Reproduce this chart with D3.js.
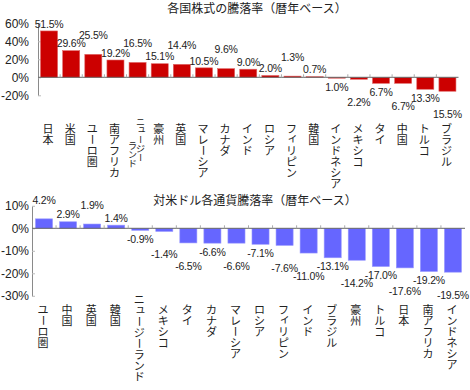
<!DOCTYPE html>
<html>
<head>
<meta charset="utf-8">
<script src="https://cdn.jsdelivr.net/npm/d3@7/dist/d3.min.js"></script>
<style>
  body { margin: 0; background: #fff; }
  svg { display: block; }
</style>
</head>
<body>
<svg id="chart" width="470" height="390"></svg>
<script>
// 各国株式の騰落率
const stockNames = ["日本", "米国", "ユーロ圏", "南アフリカ", "ニュージーランド", "豪州", "英国", "マレーシア", "カナダ", "インド", "ロシア", "フィリピン", "韓国", "インドネシア", "メキシコ", "タイ", "中国", "トルコ", "ブラジル"];
const stockValues = [51.5, 29.6, 25.5, 19.2, 16.5, 15.1, 14.4, 10.5, 9.6, 9.0, 2.0, 1.3, 0.7, -1.0, -2.2, -6.7, -6.7, -13.3, -15.5];
const stockTicks = [60, 40, 20, 0, -20];

// 対米ドル各通貨騰落率
const fxNames = ["ユーロ圏", "中国", "英国", "韓国", "ニュージーランド", "メキシコ", "タイ", "カナダ", "マレーシア", "ロシア", "フィリピン", "インド", "ブラジル", "豪州", "トルコ", "日本", "南アフリカ", "インドネシア"];
const fxValues = [4.2, 2.9, 1.9, 1.4, -0.9, -1.4, -6.5, -6.6, -6.6, -7.1, -7.6, -11.0, -13.1, -14.2, -17.0, -17.6, -19.2, -19.5];
const fxTicks = [10, 0, -10, -20, -30];

const svg = d3.select("#chart");
const jpFont = "'Noto Sans CJK JP', sans-serif";
const numFont = "'Liberation Sans', Arial, sans-serif";
const smallKana = "ァィゥェォッャュョヮ";

// labels sit just past the bar end; if one would collide with its neighbour it moves out a step
const placeLabels = (values, y) => {
  const near = v => y(v) + (v >= 0 ? -7 : 9);
  const far = v => y(v) + (v >= 0 ? -19 : 23);
  let prev = null;
  return values.map((v, i) => {
    const up = v >= 0;
    let ly = near(v);
    if (prev && prev.up === up) {
      if (Math.abs(ly - prev.y) < 8 && Math.abs(far(v) - prev.y) > Math.abs(ly - prev.y)) ly = far(v);
    } else if (up && i + 1 < values.length && Math.abs(near(values[i + 1]) - ly) < 8) {
      // first of a positive run crowded by the next one: lift it
      ly = far(v);
    }
    prev = { up, y: ly };
    return ly;
  });
};

// stack a string one character per row (vertical Japanese)
const vText = (g, str, cx, top, fs) => {
  [...str].forEach((ch, k) => {
    const cy = top + k * fs + fs / 2;
    const t = g.append("text")
      .attr("x", cx)
      .attr("y", cy + 0.38 * fs)
      .attr("text-anchor", "middle")
      .style("font-family", jpFont)
      .style("font-size", fs + "px")
      .attr("fill", "#222")
      .text(ch);
    if (ch === "ー") t.attr("transform", `rotate(90,${cx},${cy})`);
    if (smallKana.includes(ch)) t.attr("transform", `translate(${0.12 * fs},${-0.17 * fs})`);
  });
};

const drawPanel = (o) => {
  const g = svg.append("g");

  const x = d3.scaleBand()
    .domain(o.names)
    .range(o.xRange)
    .paddingInner(o.pad)
    .paddingOuter(o.pad / 2);

  const y = d3.scaleLinear()
    .domain([o.ticks[o.ticks.length - 1], o.ticks[0]])
    .range(o.yRange);

  g.append("text")
    .attr("x", o.titleX)
    .attr("y", o.titleY)
    .attr("text-anchor", "middle")
    .style("font-family", jpFont)
    .style("font-size", "12px")
    .attr("fill", "#222")
    .text(o.title);

  // y axis, ticks pointing inwards
  const yAxis = g.append("g")
    .attr("transform", `translate(${o.xRange[0]},0)`)
    .call(d3.axisLeft(y).tickValues(o.ticks).tickSizeInner(-3).tickSizeOuter(0)
      .tickPadding(o.tickPad).tickFormat(d => `${d}%`));
  yAxis.select(".domain").attr("stroke", "#8a8a8a");
  yAxis.selectAll(".tick line").attr("stroke", "#bbb");
  yAxis.selectAll(".tick text")
    .style("font-family", numFont)
    .style("font-size", "12px")
    .attr("fill", "#222");

  // bars
  g.selectAll("rect.bar")
    .data(o.values)
    .join("rect")
    .attr("class", "bar")
    .attr("x", (d, i) => x(o.names[i]))
    .attr("width", x.bandwidth())
    .attr("y", d => y(Math.max(0, d)))
    .attr("height", d => Math.abs(y(d) - y(0)))
    .attr("fill", o.color)
    .attr("stroke", o.edge)
    .attr("stroke-width", 0.6);

  // zero line + category ticks between bars
  g.append("line")
    .attr("x1", o.xRange[0]).attr("x2", o.xRange[1])
    .attr("y1", y(0)).attr("y2", y(0))
    .attr("stroke", "#666");
  const gap = x.step() * x.paddingInner() / 2;
  g.selectAll("line.cat")
    .data(o.names.slice(1))
    .join("line")
    .attr("class", "cat")
    .attr("x1", d => x(d) - gap).attr("x2", d => x(d) - gap)
    .attr("y1", y(0) - 3).attr("y2", y(0))
    .attr("stroke", "#aaa");

  // value labels
  const ly = placeLabels(o.values, y);
  g.selectAll("text.val")
    .data(o.values)
    .join("text")
    .attr("class", "val")
    .attr("x", (d, i) => x(o.names[i]) + x.bandwidth() / 2)
    .attr("y", (d, i) => ly[i])
    .attr("dy", "0.35em")
    .attr("text-anchor", "middle")
    .style("font-family", numFont)
    .style("font-size", "10.5px")
    .style("letter-spacing", "-0.2px")
    .attr("fill", "#222")
    .text(d => (o.absLabels ? Math.abs(d) : d).toFixed(1) + "%");

  // category names
  o.names.forEach(name => {
    const cx = x(name) + x.bandwidth() / 2 - 1;
    if (o.wrapAt && name.length > o.wrapAt) {
      // too long for the space: two narrow columns in a smaller size
      const cut = name.lastIndexOf("ー", o.wrapAt - 1) + 1;
      vText(g, name.slice(0, cut), cx + 4, o.catTop - 6, 9);
      vText(g, name.slice(cut), cx - 4, o.catTop + 18, 9);
    } else if (name.length > 7) {
      vText(g, name, cx, o.catTop - 10, 11);
    } else {
      vText(g, name, cx, o.catTop, 11);
    }
  });
};

drawPanel({
  title: "各国株式の騰落率（暦年ベース）",
  titleX: 257, titleY: 12.5,
  names: stockNames, values: stockValues, ticks: stockTicks,
  xRange: [38, 458.5], yRange: [95.3, 23.3], pad: 0.23, tickPad: 9,
  color: "#cc0000", edge: "#e06666",
  catTop: 123, wrapAt: 6, absLabels: true
});

drawPanel({
  title: "対米ドル各通貨騰落率（暦年ベース）",
  titleX: 255, titleY: 205,
  names: fxNames, values: fxValues, ticks: fxTicks,
  xRange: [32, 465], yRange: [295.8, 205.8], pad: 0.29, tickPad: 3,
  color: "#6666ff", edge: "#9999ff",
  catTop: 304, wrapAt: 0, absLabels: false
});
</script>
</body>
</html>
